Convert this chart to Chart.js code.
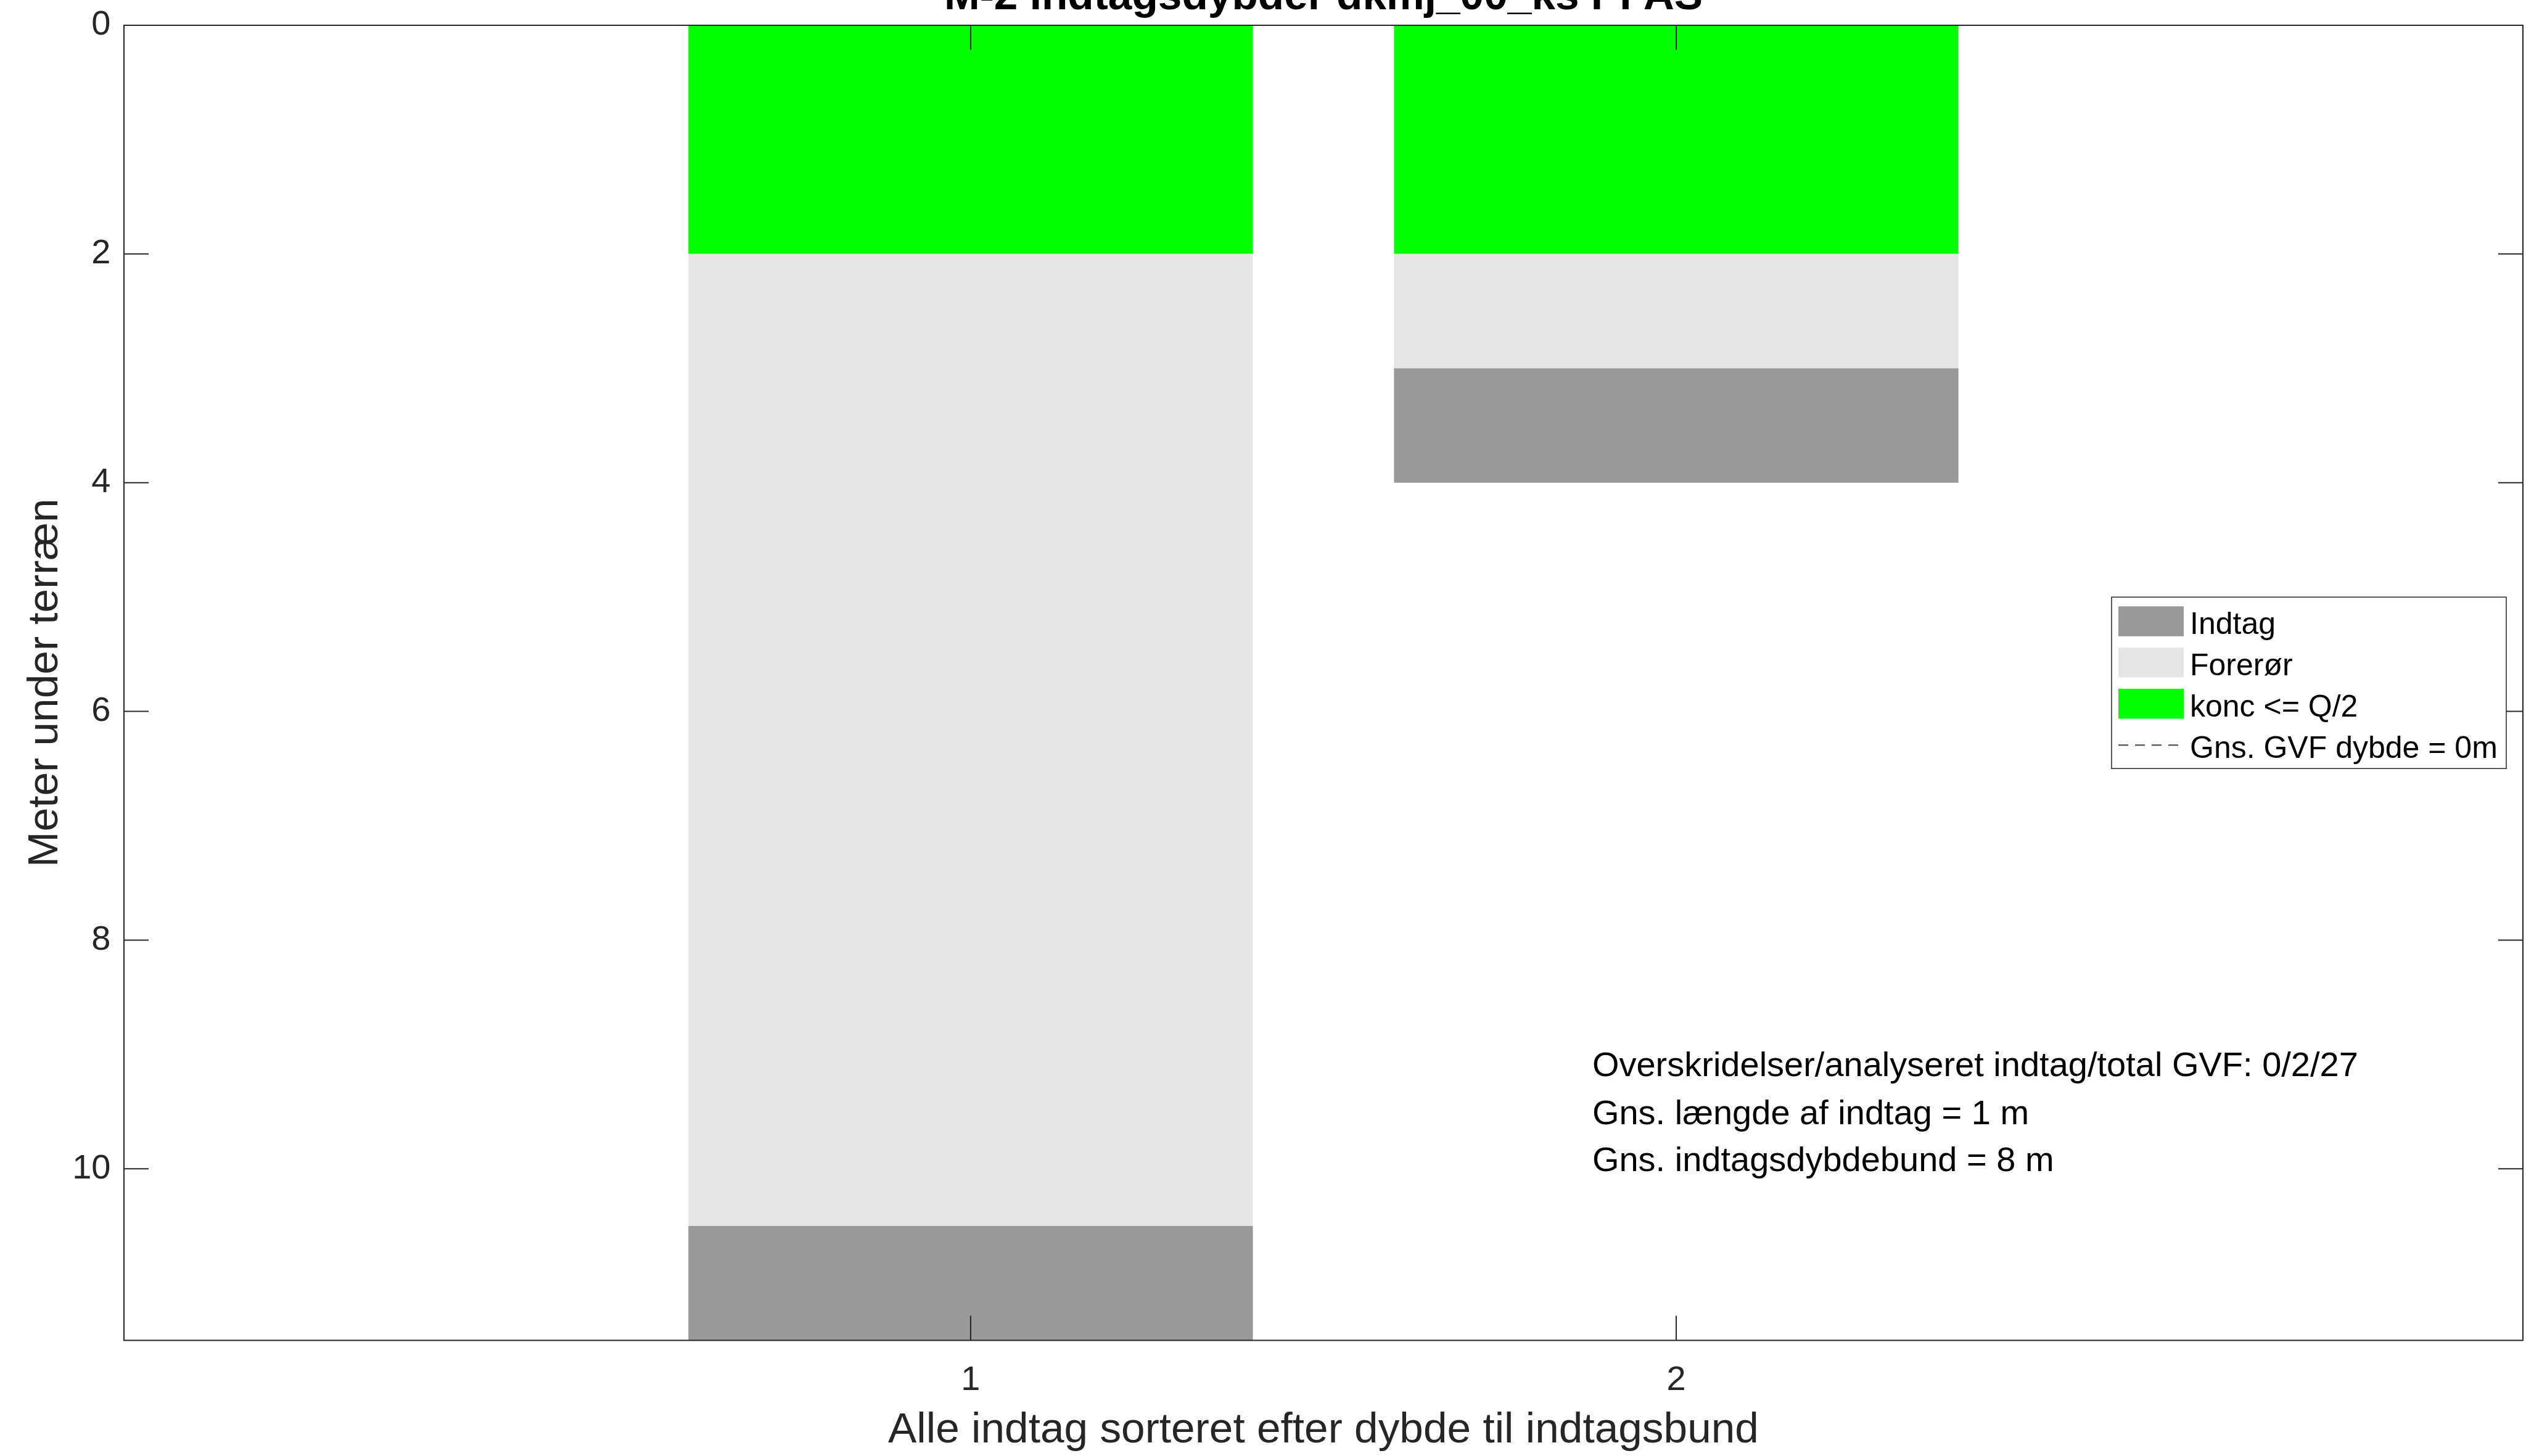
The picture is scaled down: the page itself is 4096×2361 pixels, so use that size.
<!DOCTYPE html>
<html>
<head>
<meta charset="utf-8">
<title>M-2 Indtagsdybder dkmj_00_ks PFAS</title>
<script src="https://cdn.jsdelivr.net/npm/chart.js@4.4.1/dist/chart.umd.min.js"></script>
<style>
    html, body { margin: 0; padding: 0; background: #ffffff; overflow: hidden; }
    #myChart { display: block; }
</style>
</head>
<body>
<canvas id="myChart" width="4096" height="2361" style="width:4096px;height:2361px"></canvas>
<script>
// --- data ---
var intakes = [1, 2];
var koncTop = [0, 0];
var koncBottom = [2, 2];
var forerorBottom = [10.5, 3];
var indtagBottom = [11.5, 4];
var gvfDepth = 0;

var xLimits = [-0.2, 3.2];
var yLimits = [0, 11.5];
var xTickValues = [1, 2];
var yTickValues = [0, 2, 4, 6, 8, 10];

var titleText = 'M-2 Indtagsdybder dkmj_00_ks PFAS';
var xLabel = 'Alle indtag sorteret efter dybde til indtagsbund';
var yLabel = 'Meter under terræn';
var infoLines = [
    'Overskridelser/analyseret indtag/total GVF: 0/2/27',
    'Gns. længde af indtag = 1 m',
    'Gns. indtagsdybdebund = 8 m'
];
var infoX = 1.881;
var infoY = [9.19, 9.61, 10.02];

var FONT = '"Liberation Sans", Arial, Helvetica, sans-serif';
var AXIS_COLOR = '#262626';

function segments(tops, bottoms) {
    return intakes.map(function(x, i) {
        return { x: x, y: [tops[i], bottoms[i]] };
    });
}

// keep chart.js from growing the margins for the end tick labels
function noOverflow(scale) {
    scale.paddingTop = 0;
    scale.paddingBottom = 0;
    scale.paddingLeft = 0;
    scale.paddingRight = 0;
}

// title, axis labels and the text block
var textPlugin = {
    id: 'textPlugin',
    afterDraw: function(chart) {
        var ctx = chart.ctx, a = chart.chartArea;
        var xs = chart.scales.x, ys = chart.scales.y;
        var cx = (a.left + a.right) / 2, cy = (a.top + a.bottom) / 2;
        ctx.save();
        ctx.fillStyle = '#000000';
        ctx.textBaseline = 'alphabetic';

        ctx.font = 'bold 69.4px ' + FONT;
        ctx.textAlign = 'center';
        ctx.fillText(titleText, cx, 14.5);

        ctx.fillStyle = AXIS_COLOR;
        ctx.font = '69.4px ' + FONT;
        ctx.fillText(xLabel, cx, 2338.6);

        ctx.save();
        ctx.translate(92.6, cy);
        ctx.rotate(-Math.PI / 2);
        ctx.fillText(yLabel, 0, 0);
        ctx.restore();

        ctx.fillStyle = '#000000';
        ctx.font = '56px ' + FONT;
        ctx.textAlign = 'left';
        infoLines.forEach(function(line, i) {
            ctx.fillText(line, xs.getPixelForValue(infoX), ys.getPixelForValue(infoY[i]));
        });
        ctx.restore();
    }
};

// box round the axes with inward ticks, like matlab
var boxPlugin = {
    id: 'boxPlugin',
    afterDatasetsDraw: function(chart) {
        var ctx = chart.ctx, a = chart.chartArea;
        var xs = chart.scales.x, ys = chart.scales.y;
        var tl = 40;
        ctx.save();
        ctx.strokeStyle = AXIS_COLOR;
        ctx.lineWidth = 2;
        ctx.beginPath();
        xTickValues.forEach(function(v) {
            var px = xs.getPixelForValue(v);
            ctx.moveTo(px, a.bottom); ctx.lineTo(px, a.bottom - tl);
            ctx.moveTo(px, a.top); ctx.lineTo(px, a.top + tl);
        });
        yTickValues.forEach(function(v) {
            var py = ys.getPixelForValue(v);
            ctx.moveTo(a.left, py); ctx.lineTo(a.left + tl, py);
            ctx.moveTo(a.right, py); ctx.lineTo(a.right - tl, py);
        });
        ctx.stroke();
        ctx.strokeRect(a.left, a.top, a.right - a.left, a.bottom - a.top);
        ctx.restore();
    }
};

var legendPlugin = {
    id: 'legendPlugin',
    afterDraw: function(chart) {
        var ctx = chart.ctx, a = chart.chartArea;
        var w = 640, h = 278;
        var x0 = a.right - 27 - w;
        var y0 = (a.top + a.bottom) / 2 - h / 2;
        ctx.save();
        ctx.fillStyle = '#ffffff';
        ctx.fillRect(x0, y0, w, h);
        ctx.strokeStyle = AXIS_COLOR;
        ctx.lineWidth = 1.5;
        ctx.strokeRect(x0, y0, w, h);
        ctx.font = '50px ' + FONT;
        ctx.textAlign = 'left';
        ctx.textBaseline = 'alphabetic';
        chart.data.datasets.forEach(function(ds, i) {
            var rowTop = y0 + 15 + i * 66.8;
            if (ds.type === 'line') {
                ctx.strokeStyle = ds.borderColor;
                ctx.lineWidth = ds.borderWidth;
                ctx.setLineDash(ds.borderDash);
                ctx.beginPath();
                ctx.moveTo(x0 + 11, rowTop + 24.5);
                ctx.lineTo(x0 + 108, rowTop + 24.5);
                ctx.stroke();
                ctx.setLineDash([]);
            } else {
                ctx.fillStyle = ds.backgroundColor;
                ctx.fillRect(x0 + 11, rowTop, 106, 48.5);
            }
            ctx.fillStyle = '#000000';
            ctx.fillText(ds.label, x0 + 127, rowTop + 45);
        });
        ctx.restore();
    }
};

var config = {
    type: 'bar',
    data: {
        datasets: [
            {
                label: 'Indtag',
                data: segments(forerorBottom, indtagBottom),
                backgroundColor: '#999999',
                borderWidth: 0,
                grouped: false,
                barPercentage: 0.8,
                categoryPercentage: 1.0
            },
            {
                label: 'Forerør',
                data: segments(koncBottom, forerorBottom),
                backgroundColor: '#e5e5e5',
                borderWidth: 0,
                grouped: false,
                barPercentage: 0.8,
                categoryPercentage: 1.0
            },
            {
                label: 'konc <= Q/2',
                data: segments(koncTop, koncBottom),
                backgroundColor: '#00ff00',
                borderWidth: 0,
                grouped: false,
                barPercentage: 0.8,
                categoryPercentage: 1.0
            },
            {
                type: 'line',
                label: 'Gns. GVF dybde = 0m',
                data: [{ x: xLimits[0], y: gvfDepth }, { x: xLimits[1], y: gvfDepth }],
                borderColor: '#404040',
                borderWidth: 2,
                borderDash: [16, 11],
                pointRadius: 0,
                fill: false,
                clip: false
            }
        ]
    },
    options: {
        responsive: false,
        devicePixelRatio: 1,
        animation: false,
        events: [],
        layout: {
            padding: { top: 41, right: 5, left: 0, bottom: 0 }
        },
        plugins: {
            legend: { display: false },
            title: { display: false },
            tooltip: { enabled: false }
        },
        scales: {
            x: {
                type: 'linear',
                min: xLimits[0],
                max: xLimits[1],
                offset: false,
                grid: { display: false, drawTicks: false },
                border: { display: false },
                afterBuildTicks: function(scale) {
                    scale.ticks = xTickValues.map(function(v) { return { value: v }; });
                },
                afterFit: function(scale) {
                    scale.height = 187.5;
                    noOverflow(scale);
                },
                ticks: {
                    autoSkip: false,
                    maxRotation: 0,
                    padding: 31,
                    color: AXIS_COLOR,
                    font: { family: FONT, size: 56 }
                }
            },
            y: {
                type: 'linear',
                reverse: true,
                min: yLimits[0],
                max: yLimits[1],
                grid: { display: false, drawTicks: false },
                border: { display: false },
                afterBuildTicks: function(scale) {
                    scale.ticks = yTickValues.map(function(v) { return { value: v }; });
                },
                afterFit: function(scale) {
                    scale.width = 201;
                    noOverflow(scale);
                },
                ticks: {
                    autoSkip: false,
                    padding: 21.5,
                    color: AXIS_COLOR,
                    font: { family: FONT, size: 56 }
                }
            }
        }
    },
    plugins: [boxPlugin, textPlugin, legendPlugin]
};

var myChart = new Chart(document.getElementById('myChart'), config);
</script>
</body>
</html>
